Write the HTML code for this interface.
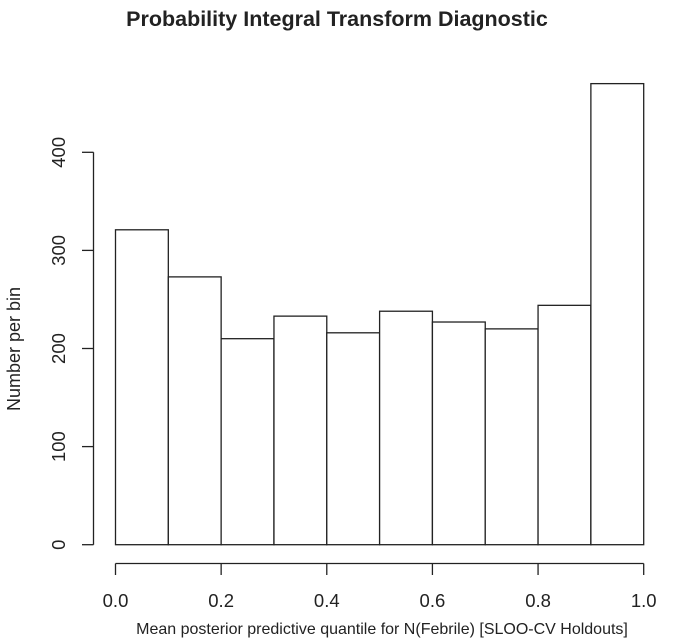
<!DOCTYPE html>
<html><head><meta charset="utf-8"><style>
html,body{margin:0;padding:0;background:#fff}
svg{display:block;font-family:"Liberation Sans",Arial,sans-serif}
</style></head><body>
<svg id="chart" width="674" height="642" viewBox="0 0 674 642">
<text x="337" y="26" text-anchor="middle" font-size="21.5" font-weight="bold" fill="#222">Probability Integral Transform Diagnostic</text>
<g id="bars"></g>
<g id="yaxis"></g>
<g id="xaxis"></g>
<text x="382" y="634" text-anchor="middle" font-size="16" fill="#222">Mean posterior predictive quantile for N(Febrile) [SLOO-CV Holdouts]</text>
<text transform="translate(20,349) rotate(-90)" text-anchor="middle" font-size="18" fill="#222">Number per bin</text>
</svg>
<script>
const binEdges=[0,0.1,0.2,0.3,0.4,0.5,0.6,0.7,0.8,0.9,1.0];
const counts=[321,273,210,233,216,238,227,220,244,470];
const yTicks=[0,100,200,300,400];
const xTicks=[0,0.2,0.4,0.6,0.8,1.0];
const xTickLabels=["0.0","0.2","0.4","0.6","0.8","1.0"];
const NS="http://www.w3.org/2000/svg";
const X0=115.5,X1=643.7,Y0=544.7,YPU=0.981;
const xs=v=>X0+(X1-X0)*v;
const ys=v=>Y0-v*YPU;
function mk(t,a,p){const e=document.createElementNS(NS,t);for(const k in a)e.setAttribute(k,a[k]);p.appendChild(e);return e;}
const bars=document.getElementById('bars');
counts.forEach((c,i)=>{
 const r=mk('rect',{x:xs(binEdges[i]),y:ys(c),width:xs(binEdges[i+1])-xs(binEdges[i]),height:Y0-ys(c),fill:'#fff',stroke:'#222','stroke-width':1.3},bars);
 
 
});
const ya=document.getElementById('yaxis');
const yl=mk('line',{x1:93.5,x2:93.5,y1:ys(yTicks[0]),y2:ys(yTicks[yTicks.length-1]),stroke:'#222','stroke-width':1.3},ya);


yTicks.forEach(t=>{
 mk('line',{x1:82,x2:93.5,y1:ys(t),y2:ys(t),stroke:'#222','stroke-width':1.3},ya);
 const tx=mk('text',{transform:`translate(65,${ys(t)}) rotate(-90)`,'text-anchor':'middle','font-size':18.5,fill:'#222'},ya);
 tx.textContent=t;
 
 
});
const xa=document.getElementById('xaxis');
const xl=mk('line',{x1:xs(xTicks[0]),x2:xs(xTicks[xTicks.length-1]),y1:563.5,y2:563.5,stroke:'#222','stroke-width':1.3},xa);


xTicks.forEach((t,i)=>{
 mk('line',{x1:xs(t),x2:xs(t),y1:563.5,y2:575,stroke:'#222','stroke-width':1.3},xa);
 const tx=mk('text',{x:xs(t),y:607,'text-anchor':'middle','font-size':18.5,fill:'#222'},xa);
 tx.textContent=xTickLabels[i];
 
 
});
</script>
</body></html>
